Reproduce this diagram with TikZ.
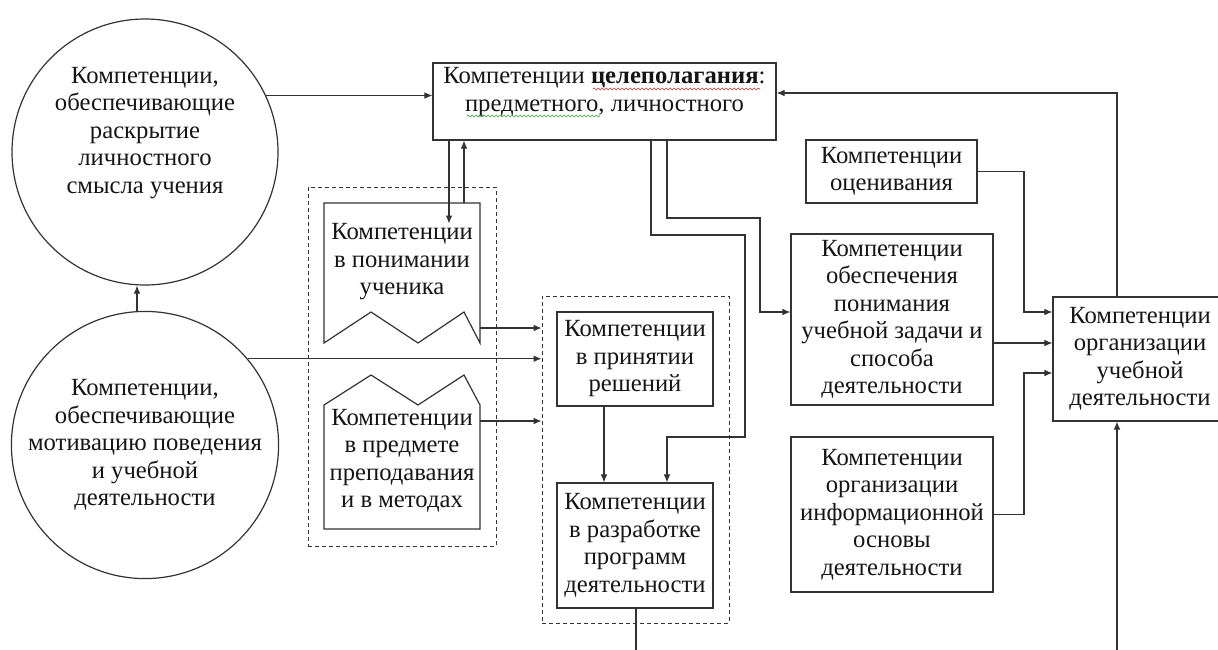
\documentclass[tikz,border=0pt]{standalone}
\usepackage{fontspec}
\setmainfont{Liberation Serif}
\usetikzlibrary{arrows.meta}
\usetikzlibrary{decorations.pathmorphing}
\definecolor{ln}{HTML}{333333}
\definecolor{tx}{HTML}{151515}
\definecolor{sqr}{HTML}{D03030}
\definecolor{sqg}{HTML}{30A030}

\tikzset{
  txt/.style={font=\fontsize{18.5}{20.6}\selectfont, text=tx, align=center, inner sep=0pt},
  box/.style={txt, draw=ln, line width=0.9pt, rectangle},
  circ/.style={draw=ln, line width=0.9pt, circle, minimum size=199.5pt, inner sep=0pt},
  grp/.style={draw=ln, line width=0.7pt, dash pattern=on 3pt off 2.25pt, rectangle, inner sep=0pt},
  conn/.style={draw=ln, line width=0.8pt},
  arr/.style={conn, -{Latex[length=6pt,width=5pt]}},
}

\begin{document}
\begin{tikzpicture}[x=0.75pt, y=-0.75pt]

  \useasboundingbox (0,0) rectangle (1218,650);

  % Circles
  \node[circ] (c1) at (145,152) {};
  \node[txt] (c1t) at (145,133) {Компетенции,\\обеспечивающие\\раскрытие\\личностного\\смысла учения};
  \node[circ, txt] (c2) at (145,445) {Компетенции,\\обеспечивающие\\мотивацию поведения\\и учебной\\деятельности};

  % Goal box
  \node[box, minimum width=257.25pt, minimum height=57.75pt] (goal) at (604.5,101.5) {};
  \node[txt] (goalt) at (604.5,92) {Компетенции \textbf{целеполагания}:\\предметного, личностного};
  \draw[sqr, line width=0.45pt, decorate, decoration={snake, amplitude=0.7pt, segment length=3pt}] (593,89) -- (760,89);
  \draw[sqg, line width=0.45pt, decorate, decoration={snake, amplitude=0.7pt, segment length=3pt}] (467,116) -- (600,116);

  % Group 1
  \node[grp, minimum width=141pt, minimum height=269.25pt] (g1) at (402,366.5) {};
  \draw[ln, line width=0.9pt, fill=white] (324,203) -- (480,203) -- (480,343) -- (464,312) -- (418,343) -- (371,312) -- (324,343) -- cycle;
  \node[txt] (u) at (402,262) {Компетенции\\в понимании\\ученика};
  \draw[ln, line width=0.9pt, fill=white] (324,529) -- (324,405) -- (371,375) -- (418,405) -- (464,375) -- (480,405) -- (480,529) -- cycle;
  \node[txt] (s) at (402,461) {Компетенции\\в предмете\\преподавания\\и в методах};

  % Group 2
  \node[grp, minimum width=140.25pt, minimum height=245.25pt] (g2) at (635.5,459.5) {};
  \node[box, minimum width=117pt, minimum height=70.5pt] (dec) at (635,359) {Компетенции\\в принятии\\решений};
  \node[box, minimum width=117pt, minimum height=93.75pt] (dev) at (635,545.5) {Компетенции\\в разработке\\программ\\деятельности};

  % Right column
  \node[box, minimum width=128.25pt, minimum height=47.25pt] (ass) at (891.5,171.5) {Компетенции\\оценивания};
  \node[box, minimum width=151.5pt, minimum height=128.25pt] (ens) at (892,319.5) {Компетенции\\обеспечения\\понимания\\учебной задачи и\\способа\\деятельности};
  \node[box, minimum width=151.5pt, minimum height=116.25pt] (inf) at (892,514.5) {Компетенции\\организации\\информационной\\основы\\деятельности};
  \node[box, minimum width=130.5pt, minimum height=93pt] (org) at (1140,359) {Компетенции\\организации\\учебной\\деятельности};

  % Free ends
  \coordinate (b1) at (636,652);
  \coordinate (b2) at (1117,652);

  % Connections
  \draw[arr] (c2.north -| 137,0) -- (c1.south -| 137,0);
  \draw[arr] (c1.25) -- (goal.west |- c1.25);
  \draw[arr] (goal.south -| 449,0) -- (u.north -| 449,200);
  \draw[arr] (464,203) -- (goal.south -| 464,0);
  \draw[arr] (c2.40) -- (g2.west |- c2.40);
  \draw[arr] (480,328) -- (g2.west |- 0,328);
  \draw[arr] (480,421) -- (g2.west |- 0,421);
  \draw[arr] (dec.south -| 604,0) -- (dev.north -| 604,0);
  \draw[arr] (goal.south -| 651,0) |- (745,235) |- (667,437) -- (dev.north -| 667,0);
  \draw[arr] (goal.south -| 667,0) |- (760,218) |- (ens.west |- 0,312);
  \draw[arr] (ass.east) -| (1024,312) -- (org.west |- 0,312);
  \draw[arr] (ens.east |- 0,343) -- (org.west |- 0,343);
  \draw[arr] (inf.east) -| (1024,373) -- (org.west |- 0,373);
  \draw[arr] (org.north -| 1117,0) |- (goal.east |- 0,93);
  \draw[arr] (b2) -- (org.south -| b2);
  \draw[conn] (dev.south -| b1) -- (b1);

\end{tikzpicture}
\end{document}
